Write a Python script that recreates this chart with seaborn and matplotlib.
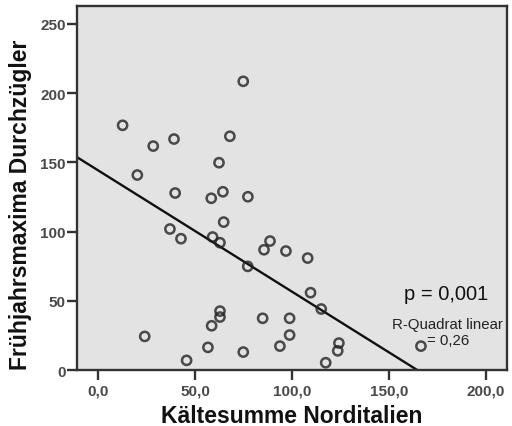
import matplotlib
matplotlib.use("Agg")
import matplotlib.pyplot as plt
import seaborn as sns
import pandas as pd

# Cold sum in northern Italy vs. spring maxima of migrants
kaeltesumme = [74.9, 12.7, 28.5, 39.2, 68.0, 62.4, 20.3, 39.8, 58.4, 64.4,
               77.3, 37.1, 42.8, 64.8, 59.1, 62.9, 85.6, 88.7, 77.2, 62.9,
               62.9, 58.6, 84.9, 24.1, 56.7, 74.9, 45.7, 96.9, 108.1, 109.6,
               115.1, 98.8, 98.8, 93.8, 124.2, 123.6, 117.4, 166.5]
durchzuegler = [208.6, 176.8, 161.8, 166.9, 168.9, 149.8, 140.9, 127.9, 124.1, 128.8,
                125.2, 101.9, 94.9, 106.9, 96.1, 92.0, 86.9, 93.2, 74.9, 42.6,
                38.3, 32.0, 37.4, 24.3, 16.4, 13.0, 7.0, 86.0, 80.9, 55.9,
                44.1, 37.4, 25.3, 17.3, 19.5, 13.9, 5.3, 17.3]

x_ticks = [0, 50, 100, 150, 200]
x_tick_labels = ["0,0", "50,0", "100,0", "150,0", "200,0"]
y_ticks = [0, 50, 100, 150, 200, 250]
y_tick_labels = ["0", "50", "100", "150", "200", "250"]

p_text = "p = 0,001"
r2_text = "R-Quadrat linear\n= 0,26"

df = pd.DataFrame({"Kältesumme Norditalien": kaeltesumme,
                   "Frühjahrsmaxima Durchzügler": durchzuegler})

sns.set_theme(style="white")
plt.rcParams["font.family"] = ["Liberation Sans", "DejaVu Sans"]

fig = plt.figure(figsize=(5.12, 4.27), dpi=100)
ax = fig.add_axes([0.1504, 0.131, 0.8396, 0.8526])
ax.set_facecolor("#e3e3e3")

ax.set_xlim(-10.8, 210.8)
ax.set_ylim(0, 263)

sns.regplot(data=df, x="Kältesumme Norditalien", y="Frühjahrsmaxima Durchzügler",
            ax=ax, ci=None, truncate=False,
            scatter_kws=dict(s=44, facecolors="none", edgecolors="#222222",
                             linewidths=1.8, zorder=3),
            line_kws=dict(color="#111111", linewidth=1.7, zorder=2))

ax.set_xlim(-10.8, 210.8)
ax.set_ylim(0, 263)

ax.set_xticks(x_ticks)
ax.set_xticklabels(x_tick_labels)
ax.set_yticks(y_ticks)
ax.set_yticklabels(y_tick_labels)

for side in ["left", "bottom", "right", "top"]:
    ax.spines[side].set_visible(True)
    ax.spines[side].set_color("#333333")
    ax.spines[side].set_linewidth(1.7)

ax.tick_params(axis="both", which="major", direction="out", length=7, width=1.7,
               color="#333333", labelsize=11, labelcolor="#4a4a4a",
               left=True, bottom=True, right=False, top=False)
ax.tick_params(axis="y", pad=1)
ax.tick_params(axis="x", pad=3)
for lbl in ax.get_xticklabels() + ax.get_yticklabels():
    lbl.set_fontweight("bold")

ax.set_xlabel("Kältesumme Norditalien", fontsize=16.5, fontweight="bold",
              color="#111111", labelpad=4)
ax.set_ylabel("Frühjahrsmaxima Durchzügler", fontsize=16.5, fontweight="bold",
              color="#111111")
ax.yaxis.set_label_coords(-0.105, 0.456)

ax.text(179.4, 55, p_text, ha="center", va="center", fontsize=14.5, color="#111111")
ax.text(180.4, 27.5, r2_text, ha="center", va="center", fontsize=10.8, color="#222222",
        multialignment="center", linespacing=1.1)

fig.savefig("out.png", dpi=100, facecolor="white")
